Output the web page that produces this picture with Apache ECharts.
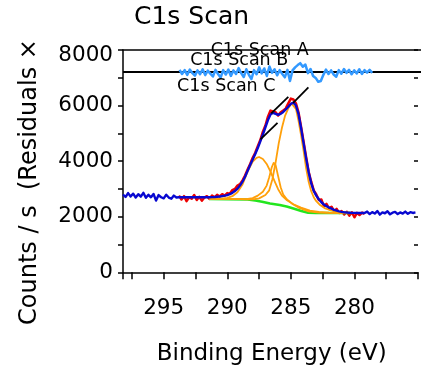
<!DOCTYPE html>
<html>
<head>
<meta charset="utf-8">
<script src="https://cdn.jsdelivr.net/npm/echarts/dist/echarts.min.js"></script>
<style>
  html, body { margin: 0; padding: 0; background: #fff; }
  #chart { width: 421px; height: 366px; }
</style>
</head>
<body>
<div id="chart"></div>
<script>
// C1s XPS scan: raw counts, fitted envelope, Shirley-type background,
// three synthetic components and the fit residuals (upper strip).

// Raw scan outside the fitting window (high binding energy side)
const highBEEnergy = [298.2, 298.0, 297.8, 297.6, 297.4, 297.2, 297.0, 296.8, 296.6, 296.4, 296.2,
  296.0, 295.8, 295.6, 295.4, 295.2, 295.0, 294.8, 294.6, 294.4, 294.2, 294.0];
const highBECounts = [2800, 2710, 2850, 2730, 2830, 2690, 2810, 2720, 2860, 2680, 2790,
  2700, 2820, 2580, 2780, 2700, 2660, 2790, 2690, 2650, 2760, 2690];

// Fitting window energies (shared by measured data and envelope)
const fitEnergy = [
  293.8, 293.6, 293.4, 293.2, 293.0, 292.8, 292.6, 292.4, 292.2, 292.0,
  291.8, 291.6, 291.4, 291.2, 291.0, 290.8, 290.6, 290.4, 290.2, 290.0,
  289.8, 289.6, 289.4, 289.2, 289.0, 288.8, 288.6, 288.4, 288.2, 288.0,
  287.8, 287.6, 287.4, 287.2, 287.0, 286.8, 286.6, 286.4, 286.2, 286.0,
  285.8, 285.6, 285.4, 285.2, 285.0, 284.8, 284.6, 284.4, 284.2, 284.0,
  283.8, 283.6, 283.4, 283.2, 283.0, 282.8, 282.6, 282.4, 282.2, 282.0,
  281.8, 281.6, 281.4, 281.2, 281.0, 280.8, 280.6, 280.4, 280.2, 280.0,
  279.8, 279.6, 279.4, 279.2];

// Measured counts inside the window
const dataCounts = [
  2760, 2620, 2740, 2560, 2700, 2650, 2780, 2600, 2720, 2580,
  2690, 2740, 2640, 2760, 2700, 2790, 2730, 2810, 2760, 2850,
  2830, 2960, 3000, 3120, 3170, 3310, 3480, 3700, 3900, 4120,
  4300, 4540, 4760, 5060, 5280, 5600, 5820, 5790, 5760, 5640,
  5760, 5820, 5900, 6080, 6250, 6220, 6080, 5760, 5250, 4700,
  4150, 3620, 3260, 2950, 2800, 2600, 2620, 2380, 2460, 2300,
  2360, 2200, 2280, 2140, 2200, 2080, 2180, 2040, 2160, 1980,
  2140, 2060, 2150, 2100];

// Fitted envelope inside the window
const envelopeCounts = [
  2700, 2700, 2700, 2700, 2700, 2700, 2700, 2700, 2700, 2700,
  2700, 2700, 2700, 2705, 2710, 2718, 2728, 2742, 2758, 2778,
  2810, 2860, 2925, 3010, 3120, 3260, 3440, 3650, 3860, 4060,
  4260, 4470, 4710, 4960, 5220, 5480, 5680, 5740, 5700, 5670,
  5700, 5770, 5860, 5960, 6060, 6110, 6000, 5700, 5200, 4650,
  4100, 3600, 3210, 2930, 2760, 2630, 2520, 2440, 2380, 2330,
  2290, 2250, 2220, 2195, 2175, 2160, 2150, 2145, 2140, 2138,
  2136, 2135, 2135, 2135];

// Raw scan outside the fitting window (low binding energy side)
const lowBEEnergy = [279.0, 278.8, 278.6, 278.4, 278.2, 278.0, 277.8, 277.6, 277.4, 277.2,
  277.0, 276.8, 276.6, 276.4, 276.2, 276.0, 275.8, 275.6, 275.4, 275.2];
const lowBECounts = [2185, 2095, 2165, 2115, 2205, 2075, 2155, 2125, 2195, 2085,
  2145, 2175, 2095, 2155, 2115, 2185, 2105, 2165, 2135, 2155];

// Background
const bgEnergy = [291.4, 288.4, 287.8, 287.26, 286.64, 285.87, 285.33, 284.8, 284.18, 283.64, 283.03, 280.3];
const bgCounts = [2637, 2619, 2583, 2540, 2475, 2421, 2367, 2295, 2205, 2144, 2133, 2133];

// Component peaks
const peak1Energy = [291.4, 290.5, 290.0, 289.6, 289.2, 288.8, 288.4, 288.0, 287.7, 287.5, 287.2, 286.9,
  286.6, 286.3, 286.0, 285.7, 285.3, 284.8, 284.2, 283.5, 282.8, 282.0, 281.0, 280.3];
const peak1Counts = [2640, 2650, 2680, 2740, 2880, 3160, 3620, 3980, 4120, 4150, 4080, 3900,
  3620, 3300, 2990, 2760, 2590, 2450, 2330, 2220, 2170, 2145, 2135, 2133];

const peak2Energy = [291.4, 289.5, 288.5, 288.0, 287.6, 287.2, 286.9, 286.7, 286.5, 286.35, 286.2,
  286.0, 285.8, 285.6, 285.3, 284.9, 284.4, 283.6, 282.8, 281.0, 280.3];
const peak2Counts = [2645, 2640, 2635, 2670, 2760, 2900, 3120, 3420, 3780, 3940, 3860,
  3460, 3060, 2800, 2620, 2470, 2330, 2190, 2145, 2133, 2133];

const peak3Energy = [291.4, 289.5, 288.5, 288.0, 287.5, 287.0, 286.7, 286.45, 286.2, 285.95, 285.7,
  285.45, 285.2, 284.95, 284.82, 284.6, 284.4, 284.2, 284.0, 283.8, 283.6, 283.4, 283.2, 283.0,
  282.7, 282.3, 282.0, 281.5, 281.0, 280.3];
const peak3Counts = [2645, 2640, 2625, 2625, 2660, 2780, 2950, 3350, 3950, 4650, 5200,
  5640, 5900, 6080, 6120, 5880, 5460, 4950, 4380, 3750, 3260, 2920, 2700, 2560,
  2420, 2300, 2250, 2190, 2160, 2140];

// Peak position markers (start / end of each tick)
const peakMarkers = [
  [[287.39, 4784], [286.05, 5381]],
  [[286.54, 5719], [285.20, 6316]],
  [[284.82, 6101], [283.62, 6654]]
];

// Residuals (data - fit)
const residEnergy = [
  293.8, 293.6, 293.4, 293.2, 293.0, 292.8, 292.6, 292.4, 292.2, 292.0,
  291.8, 291.6, 291.4, 291.2, 291.0, 290.8, 290.6, 290.4, 290.2, 290.0,
  289.8, 289.6, 289.4, 289.2, 289.0, 288.8, 288.6, 288.4, 288.2, 288.0,
  287.8, 287.6, 287.4, 287.2, 287.0, 286.8, 286.6, 286.4, 286.2, 286.0,
  285.8, 285.6, 285.4, 285.2, 285.0, 284.8, 284.6, 284.4, 284.2, 284.0,
  283.8, 283.6, 283.4, 283.2, 283.0, 282.8, 282.6, 282.4, 282.2, 282.0,
  281.8, 281.6, 281.4, 281.2, 281.0, 280.8, 280.6, 280.4, 280.2, 280.0,
  279.8, 279.6, 279.4, 279.2, 279.0, 278.8];
const residCounts = [
  60, -90, 50, -120, 70, -60, -150, 40, -100, 80,
  -130, 30, -80, -180, 60, -90, -220, 50, -110, 70,
  -160, 40, -90, 120, -60, -200, 80, -120, -270, 50,
  -100, 150, -70, 110, -160, 180, -50, 80, -140, 50,
  -90, -210, 60, -340, 40, 150, 230, 300, 170, 250,
  -60, 90, -160, -230, -370, -340, -120, 70, -90, 40,
  -110, -190, 50, -80, 90, -50, 60, -100, 40, -70,
  80, -90, 50, -40, 60, -50];

// Axis settings
const xMin = 275, xMax = 298.2, xStep = 2.5;
const yMin = 0, yMax = 8000, yStep = 1000;

const FONT = '"DejaVu Sans", sans-serif';
const zip = (xs, ys) => xs.map((x, i) => [x, ys[i]]);

function line(data, color, width, z, xi, yi) {
  return {
    type: 'line', data: data, xAxisIndex: xi || 0, yAxisIndex: yi || 0,
    showSymbol: false, symbol: 'none', z: z, silent: true,
    lineStyle: { color: color, width: width, join: 'round' }
  };
}

const blueData = zip(highBEEnergy, highBECounts)
  .concat(zip(fitEnergy, envelopeCounts))
  .concat(zip(lowBEEnergy, lowBECounts));

const series = [
  line(zip(fitEnergy, dataCounts), '#ee0000', 2.5, 2),
  line(zip(bgEnergy, bgCounts), '#22e61e', 2.5, 3),
  line(zip(peak1Energy, peak1Counts), '#ffa00a', 1.8, 4),
  line(zip(peak2Energy, peak2Counts), '#ffa00a', 1.8, 4),
  line(zip(peak3Energy, peak3Counts), '#ffa00a', 1.8, 4),
  line(blueData, '#0808d0', 2.4, 5)
];
peakMarkers.forEach(seg => series.push(line(seg, '#000', 1.8, 6)));

const resid = line(zip(residEnergy, residCounts), '#3399ff', 2.5, 5, 2, 2);
resid.markLine = {
  silent: true, symbol: 'none', label: { show: false },
  lineStyle: { color: '#000', width: 2, type: 'solid' },
  data: [{ yAxis: 0 }]
};
series.push(resid);

const tickFont = { color: '#000', fontSize: 21.5, fontFamily: FONT };

const option = {
  animation: false,
  backgroundColor: '#fff',
  grid: [
    { left: 123, right: -3.25, top: 50, bottom: 93.7 },
    { left: 123, right: -3.25, top: 50, height: 43 }
  ],
  xAxis: [
    {
      gridIndex: 0, type: 'value', inverse: true, min: xMin, max: xMax, interval: xStep,
      axisLine: { show: true, onZero: false, lineStyle: { color: '#000', width: 1.5 } },
      axisTick: { show: true, length: 7, lineStyle: { color: '#000', width: 1.5 } },
      axisLabel: Object.assign({
        margin: 25,
        formatter: v => (Math.abs(v % 5) < 1e-6 && v >= 280 && v <= 295) ? String(Math.round(v)) : ''
      }, tickFont),
      splitLine: { show: false }
    },
    {
      gridIndex: 0, type: 'value', inverse: true, min: xMin, max: xMax, interval: xStep,
      axisLine: { show: false },
      axisTick: { show: true, inside: true, length: 4, lineStyle: { color: '#000', width: 1.5 } },
      axisLabel: { show: false }, splitLine: { show: false }
    },
    {
      gridIndex: 1, type: 'value', inverse: true, min: xMin, max: xMax, position: 'top',
      axisLine: { show: true, onZero: false, lineStyle: { color: '#000', width: 1.5 } },
      axisTick: { show: false }, axisLabel: { show: false }, splitLine: { show: false }
    }
  ],
  yAxis: [
    {
      gridIndex: 0, type: 'value', min: yMin, max: yMax, interval: yStep,
      axisLine: { show: true, lineStyle: { color: '#000', width: 1.5 } },
      axisTick: { show: true, length: 5, lineStyle: { color: '#000', width: 1.5 } },
      axisLabel: Object.assign({
        margin: 10,
        formatter: v => v % 2000 === 0 ? (v === yMax ? '{top|' + v + '}' : String(v)) : '',
        rich: { top: Object.assign({ padding: [11, 0, 0, 0] }, tickFont) }
      }, tickFont),
      splitLine: { show: false }
    },
    {
      gridIndex: 0, type: 'value', min: yMin, max: yMax, interval: yStep,
      axisLine: { show: false },
      axisTick: { show: true, inside: true, length: 4, lineStyle: { color: '#000', width: 1.5 } },
      axisLabel: { show: false }, splitLine: { show: false }
    },
    {
      gridIndex: 1, type: 'value', min: -774, max: 774, show: false,
      splitLine: { show: false }
    }
  ],
  graphic: [
    { type: 'text', z: 100, style: { x: 134, y: 17, text: 'C1s Scan', font: '25px ' + FONT,
      fill: '#000', textAlign: 'left', textVerticalAlign: 'middle' } },
    { type: 'text', z: 100, x: 30, y: 182, rotation: Math.PI / 2,
      style: { x: 0, y: 0, text: 'Counts / s  (Residuals \u00d7', font: '24px ' + FONT,
      fill: '#000', textAlign: 'center', textVerticalAlign: 'middle' } },
    { type: 'text', z: 100, style: { x: 271.7, y: 354, text: 'Binding Energy (eV)', font: '23px ' + FONT,
      fill: '#000', textAlign: 'center', textVerticalAlign: 'middle' } },
    { type: 'text', z: 100, style: { x: 259.7, y: 50, text: 'C1s Scan A', font: '17.5px ' + FONT,
      fill: '#000', textAlign: 'center', textVerticalAlign: 'middle' } },
    { type: 'text', z: 100, style: { x: 239.2, y: 60.5, text: 'C1s Scan B', font: '17.5px ' + FONT,
      fill: '#000', textAlign: 'center', textVerticalAlign: 'middle' } },
    { type: 'text', z: 100, style: { x: 226.3, y: 86, text: 'C1s Scan C', font: '17.5px ' + FONT,
      fill: '#000', textAlign: 'center', textVerticalAlign: 'middle' } }
  ],
  series: series
};

const chart = echarts.init(document.getElementById('chart'), null, { renderer: 'canvas' });
chart.setOption(option);
</script>
</body>
</html>
